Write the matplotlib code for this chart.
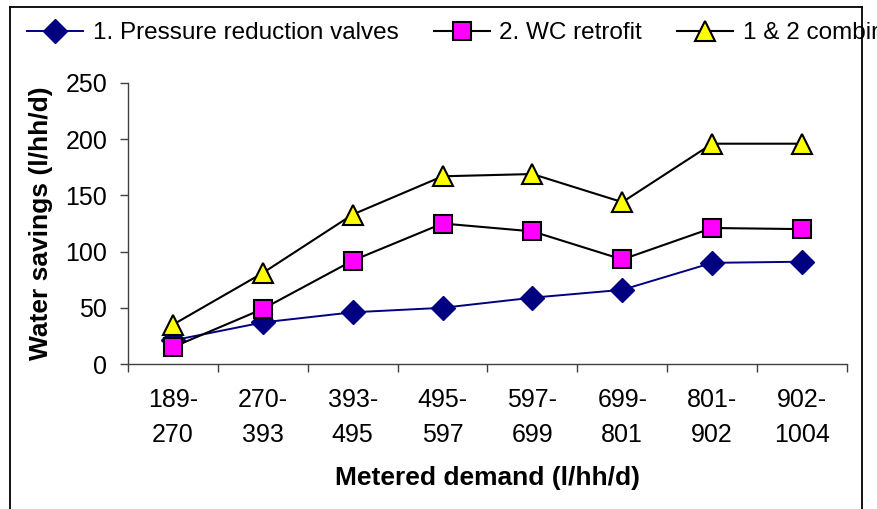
import matplotlib
matplotlib.use("Agg")
import matplotlib.pyplot as plt
from matplotlib.lines import Line2D

plt.rcParams['font.family'] = ['Liberation Sans', 'DejaVu Sans']

# dados
categorias = ["189-\n270", "270-\n393", "393-\n495", "495-\n597",
              "597-\n699", "699-\n801", "801-\n902", "902-\n1004"]
prv = [21, 37, 46, 50, 59, 66, 90, 91]
wc = [15, 49, 92, 125, 118, 93, 121, 120]
combinado = [35, 81, 133, 167, 169, 144, 196, 196]
yticks = [0, 50, 100, 150, 200, 250]

W, H = 878, 509
fig = plt.figure(figsize=(W / 100, H / 100), dpi=100)
ax = fig.add_axes([128 / W, 1 - 364 / H, (847 - 128) / W, (364 - 83) / H])

x = [i + 0.5 for i in range(len(categorias))]
ax.plot(x, prv, color='#000080', lw=1.4, marker='D', ms=12.5,
        mfc='#000080', mec='#000080', label='1. Pressure reduction valves')
ax.plot(x, wc, color='black', lw=1.5, marker='s', ms=13.5,
        mfc='#FF00FF', mec='black', mew=1.5, label='2. WC retrofit')
ax.plot(x, combinado, color='black', lw=1.5, marker='^', ms=15,
        mfc='#FFFF00', mec='black', mew=1.5, label='1 & 2 combined')

ax.set_xlim(0, len(categorias))
ax.set_ylim(0, 250)
ax.set_yticks(yticks)
ax.set_xticks(range(len(categorias) + 1))
ax.set_xticklabels([])
ax.set_xticks(x, minor=True)
ax.set_xticklabels(categorias, minor=True, fontsize=18, linespacing=1.6)
ax.tick_params(axis='x', which='major', length=6, width=1, color='#404040')
ax.tick_params(axis='x', which='minor', length=0, pad=17)
ax.tick_params(axis='y', length=6, width=1, color='#404040', labelsize=18, pad=9)

for s in ['top', 'right']:
    ax.spines[s].set_visible(False)
for s in ['left', 'bottom']:
    ax.spines[s].set_color('#404040')
    ax.spines[s].set_linewidth(1)

ax.set_ylabel("Water savings (l/hh/d)", fontsize=19, fontweight='bold', labelpad=9)
ax.set_xlabel("Metered demand (l/hh/d)", fontsize=19, fontweight='bold', labelpad=14)

fig.legend(loc='upper left', bbox_to_anchor=(27 / W, 1 - 22 / H), ncol=3,
           frameon=False, fontsize=17.5, handlelength=2.3, handletextpad=0.4,
           columnspacing=1.45, borderpad=0, borderaxespad=0)

# moldura externa
for (x0, y0, x1, y1) in [(10, 7, 862, 7), (10, 7, 10, 509), (862, 7, 862, 509)]:
    fig.add_artist(Line2D([x0 / W, x1 / W], [1 - y0 / H, 1 - y1 / H],
                          color='black', lw=1.3))

fig.savefig("out.png", dpi=100)
